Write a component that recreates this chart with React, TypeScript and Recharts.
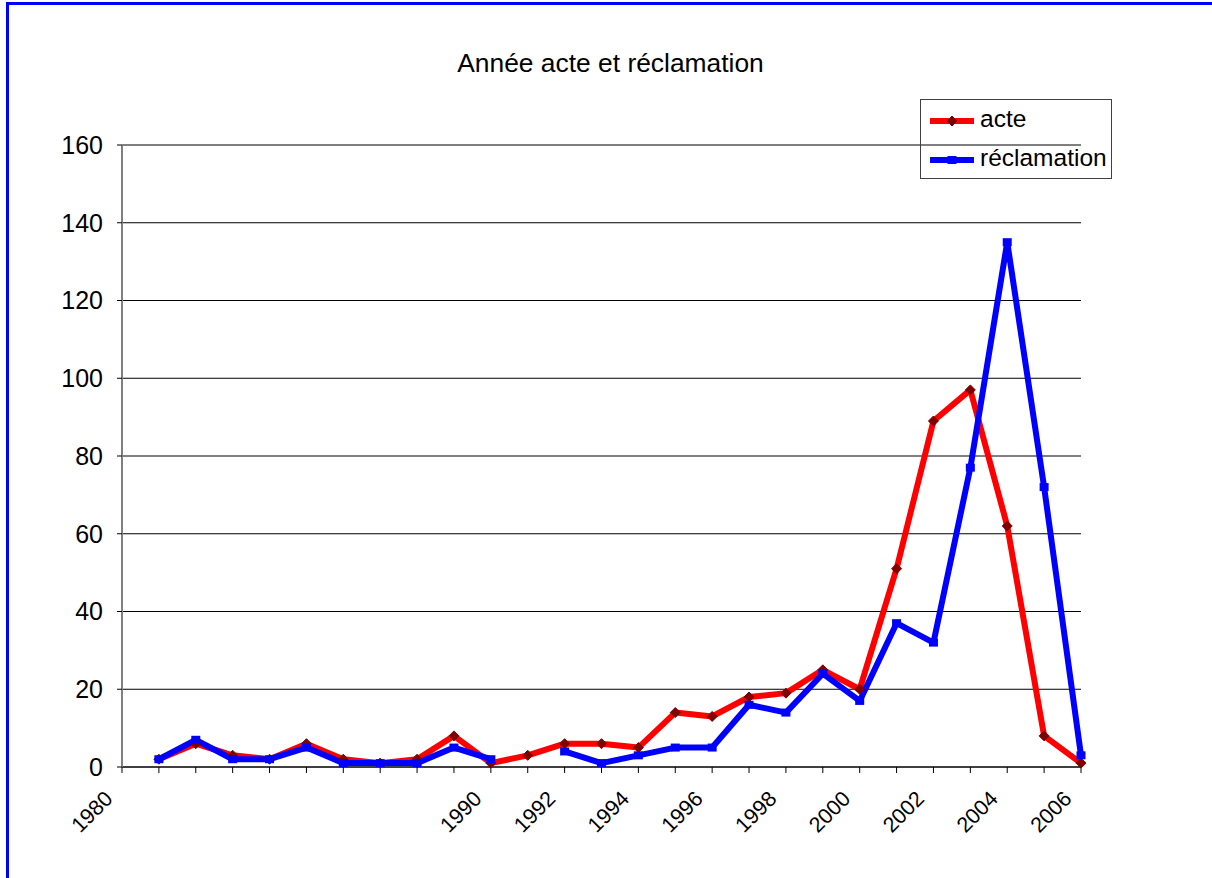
import React from 'react';
import { LineChart, Line, XAxis, YAxis, CartesianGrid, Legend } from 'recharts';

const FONT = 'Arial, "Liberation Sans", sans-serif';

const years = [
  1981, 1982, 1983, 1984, 1985, 1986, 1987, 1988, 1989, 1990, 1991, 1992, 1993,
  1994, 1995, 1996, 1997, 1998, 1999, 2000, 2001, 2002, 2003, 2004, 2005, 2006,
];
const acte = [2, 6, 3, 2, 6, 2, 1, 2, 8, 1, 3, 6, 6, 5, 14, 13, 18, 19, 25, 20, 51, 89, 97, 62, 8, 1];
const reclamation = [2, 7, 2, 2, 5, 1, 1, 1, 5, 2, null, 4, 1, 3, 5, 5, 16, 14, 24, 17, 37, 32, 77, 135, 72, 3];

const xTicks = [1980, ...years];
const xTickLabels = [1980, 1990, 1992, 1994, 1996, 1998, 2000, 2002, 2004, 2006];
const yTicks = [0, 20, 40, 60, 80, 100, 120, 140, 160];

const chartData = years.map((year, i) => ({
  year,
  acte: acte[i],
  reclamation: reclamation[i],
}));

const Diamond = ({ cx, cy }: any) => (
  <polygon
    points={`${cx},${cy - 5} ${cx + 5},${cy} ${cx},${cy + 5} ${cx - 5},${cy}`}
    fill='#800000'
    stroke='#800000'
  />
);

const Square = ({ cx, cy }: any) => <rect x={cx - 4.5} y={cy - 4} width={9} height={8} fill='#0000FF' />;

const renderDiamond = (props: any) => {
  if (props.cy == null || props.value == null) return <g key={`d-${props.index}`} />;
  return <Diamond key={`d-${props.index}`} cx={props.cx} cy={props.cy} />;
};

const renderSquare = (props: any) => {
  if (props.cy == null || props.value == null) return <g key={`s-${props.index}`} />;
  return <Square key={`s-${props.index}`} cx={props.cx} cy={props.cy} />;
};

// rotated year labels, end of text sits a little left of the tick
const YearTick = ({ x, y, payload }: any) => {
  if (!xTickLabels.includes(payload.value)) return <g />;
  const tx = x - 8;
  const ty = y + 27;
  return (
    <text
      x={tx}
      y={ty}
      transform={`rotate(-45, ${tx}, ${ty})`}
      textAnchor='end'
      fontSize={21.5}
      fontFamily={FONT}
      fill='#000'
    >
      {payload.value}
    </text>
  );
};

const LegendBox = ({ payload }: any) => (
  <svg width={192} height={80} style={{ display: 'block' }}>
    <rect x={0.5} y={0.5} width={191} height={79} fill='none' stroke='#404040' />
    {(payload || []).map((entry: any, i: number) => {
      const cy = 22 + i * 39;
      return (
        <g key={entry.value}>
          <line x1={10} x2={54} y1={cy} y2={cy} stroke={entry.color} strokeWidth={6} />
          {i === 0 ? <Diamond cx={32} cy={cy} /> : <Square cx={32} cy={cy} />}
          <text x={60} y={cy + 6} fontSize={24.5} fontFamily={FONT} fill='#000'>
            {entry.value}
          </text>
        </g>
      );
    })}
  </svg>
);

export default function App() {
  return (
    <div style={{ position: 'absolute', left: 0, top: 0, width: 1212, height: 878, overflow: 'hidden', background: '#fff' }}>
      <div
        style={{
          position: 'absolute',
          left: 6,
          top: 2,
          width: 1300,
          height: 1000,
          borderLeft: '3px solid #0000FF',
          borderTop: '3px solid #0000FF',
        }}
      />
      <div
        style={{
          position: 'absolute',
          left: 0,
          top: 50,
          width: 1221,
          textAlign: 'center',
          fontFamily: FONT,
          fontSize: 26.4,
          lineHeight: '26px',
          color: '#000',
        }}
      >
        Année acte et réclamation
      </div>
      <div style={{ position: 'absolute', left: 0, top: 0 }}>
        <LineChart width={1212} height={878} data={chartData} margin={{ top: 145, right: 131, bottom: 51, left: 0 }}>
          <CartesianGrid horizontal vertical={false} stroke='#000' />
          <XAxis
            dataKey='year'
            type='number'
            domain={[1980, 2006]}
            ticks={xTicks}
            interval={0}
            height={60}
            tickSize={6}
            tickMargin={0}
            axisLine={{ stroke: '#000' }}
            tickLine={{ stroke: '#000' }}
            tick={<YearTick />}
          />
          <YAxis
            type='number'
            domain={[0, 160]}
            ticks={yTicks}
            interval={0}
            width={122}
            tickSize={5}
            tickMargin={14}
            axisLine={{ stroke: '#808080', strokeWidth: 2 }}
            tickLine={{ stroke: '#000' }}
            tick={{ fill: '#000', fontSize: 25, fontFamily: FONT }}
          />
          <Legend
            layout='vertical'
            align='center'
            verticalAlign='middle'
            width={192}
            height={80}
            wrapperStyle={{ left: 920, top: 99, width: 192, height: 80 }}
            content={<LegendBox />}
          />
          <Line
            dataKey='acte'
            name='acte'
            type='linear'
            stroke='#FF0000'
            strokeWidth={6}
            strokeLinejoin='round'
            dot={renderDiamond}
            activeDot={false}
            isAnimationActive={false}
          />
          <Line
            dataKey='reclamation'
            name='réclamation'
            type='linear'
            stroke='#0000FF'
            strokeWidth={6}
            strokeLinejoin='round'
            dot={renderSquare}
            activeDot={false}
            connectNulls={false}
            isAnimationActive={false}
          />
        </LineChart>
      </div>
    </div>
  );
}
